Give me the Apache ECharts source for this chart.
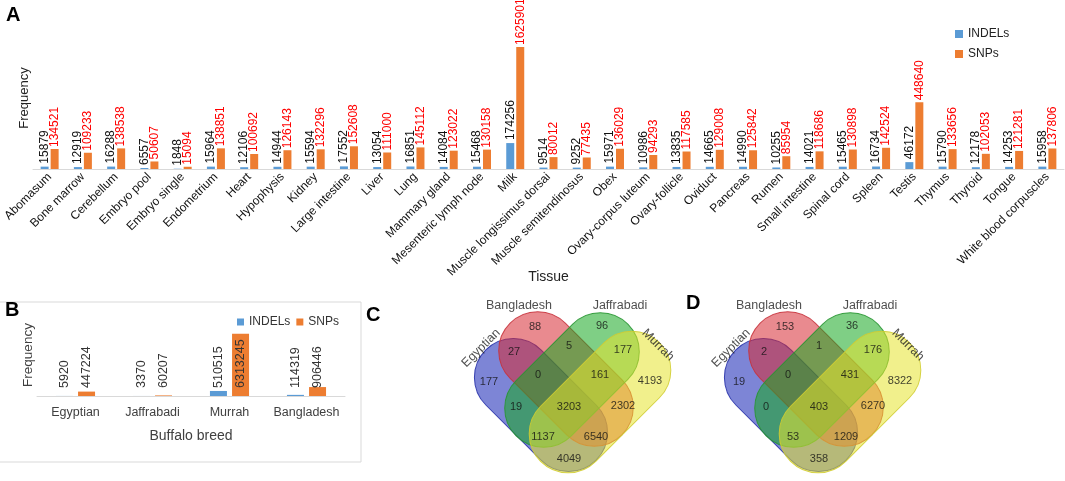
<!DOCTYPE html>
<html><head><meta charset="utf-8">
<script src="https://cdn.jsdelivr.net/npm/echarts@6/dist/echarts.min.js"></script>
<style>html,body{margin:0;padding:0;background:#fff}#c{width:1065px;height:481px}</style>
</head><body><div id="c"></div>
<script>
// ---------- DATA ----------
const tissues = ['Abomasum','Bone marrow','Cerebellum','Embryo pool','Embryo single','Endometrium','Heart','Hypophysis','Kidney','Large intestine','Liver','Lung','Mammary gland','Mesenteric lymph node','Milk','Muscle longissimus dorsai','Muscle semitendinosus','Obex','Ovary-corpus luteum','Ovary-follicle','Oviduct','Pancreas','Rumen','Small intestine','Spinal cord','Spleen','Testis','Thymus','Thyroid','Tongue','White blood corpuscles'];
const tissueIndels = [15879,12919,16288,6557,1848,15964,12106,14944,15594,17552,13054,16851,14084,15468,174256,9514,9252,15971,10986,13835,14665,14990,10255,14021,15465,16734,46172,15790,12178,14253,15958];
const tissueSnps = [134521,109233,138538,50607,15094,138851,100692,126143,132296,152608,111000,145112,123022,130158,1625901,80012,77435,136029,94293,117585,129008,125842,85954,118686,130898,142524,448640,133656,102053,121281,137806];

const breeds = ['Egyptian','Jaffrabadi','Murrah','Bangladesh'];
const breedIndels = [5920,3370,510515,114319];
const breedSnps = [447224,60207,6313245,906446];

const vennSets = ['Egyptian','Bangladesh','Jaffrabadi','Murrah'];
const vennRegions = ['E','B','J','M','EB','BJ','JM','EJ','BM','EM','EBJ','BJM','EJM','EBM','EBJM'];
const vennCountsC = [177,88,96,4193,27,5,177,19,2302,4049,0,161,1137,6540,3203];
const vennCountsD = [19,153,36,8322,2,1,176,0,6270,358,0,431,53,1209,403];

// ---------- LAYOUT (venn geometry, in px relative to diagram axis) ----------
const regionAnchor = {E:[-80,382],B:[-34,327],J:[33,326],M:[81,381],EB:[-55,352],BJ:[0,346],JM:[54,350],EJ:[-53,407],BM:[54,406],EM:[0,459],EBJ:[-31,375],BJM:[31,375],EJM:[-26,437],EBM:[27,437],EBJM:[0,407]};
const setLabelAnchor = [[-88,348,45],[-50,306,0],[51,306,0],[89,345,-45]];
const capsules = [
  {cx:-28,cy:405,len:156,wid:78,rot:-45,fill:'rgba(19,33,180,0.55)',stroke:'rgba(40,50,170,0.9)'},
  {cx:-3,cy:379,len:158,wid:78,rot:-45,fill:'rgba(215,42,51,0.55)',stroke:'rgba(200,50,60,0.9)'},
  {cx:3,cy:380,len:158,wid:78,rot:45,fill:'rgba(22,168,33,0.55)',stroke:'rgba(40,150,50,0.9)'},
  {cx:31,cy:402,len:168,wid:78,rot:45,fill:'rgba(230,228,46,0.55)',stroke:'rgba(210,205,50,0.9)'}
];

const FONT = 'Liberation Sans';
const chart = echarts.init(document.getElementById('c'), null, {renderer:'canvas'});

function capsuleItem(params, api) {
  const k = capsules[params.dataIndex];
  const c = api.coord([k.cx, k.cy]);
  const L = api.size([k.len, 0])[0];
  const W = api.size([0, k.wid])[1];
  return {type:'rect', x:c[0], y:c[1], rotation:k.rot*Math.PI/180,
    shape:{x:-L/2, y:-W/2, width:L, height:W, r:W/2},
    style:{fill:k.fill, stroke:k.stroke, lineWidth:1}};
}

function vennSeries(idx, counts) {
  return [
    {type:'custom', xAxisIndex:idx, yAxisIndex:idx, silent:true, renderItem:capsuleItem,
     data: vennSets.map((n,i)=>({name:n, value:[capsules[i].cx, capsules[i].cy]})), z:2},
    {type:'scatter', xAxisIndex:idx, yAxisIndex:idx, silent:true, symbolSize:1, z:5,
     itemStyle:{color:'rgba(0,0,0,0)'},
     label:{show:true, position:'inside', formatter:p=>String(p.value[2]), fontSize:11, color:'#111', fontFamily:FONT},
     data: vennRegions.map((r,i)=>({value:[regionAnchor[r][0], regionAnchor[r][1], counts[i]]}))},
    {type:'scatter', xAxisIndex:idx, yAxisIndex:idx, silent:true, symbolSize:1, z:5,
     itemStyle:{color:'rgba(0,0,0,0)'},
     data: vennSets.map((n,i)=>({value:[setLabelAnchor[i][0], setLabelAnchor[i][1]], name:n,
        label:{show:true, position:'inside', rotate:setLabelAnchor[i][2], formatter:n, fontSize:12.5, color:'#222', fontFamily:FONT}}))}
  ];
}

const hiddenX = (g)=>({type:'value', gridIndex:g, min:-120, max:120, show:false});
const hiddenY = (g)=>({type:'value', gridIndex:g, min:295, max:480, inverse:true, show:false});

const option = {
  animation:false,
  textStyle:{fontFamily:FONT},
  grid:[
    {left:33, right:1, top:47, bottom:312, outerBoundsMode:'none'},
    {left:37, width:308, top:327, height:69, outerBoundsMode:'none'},
    {left:449, width:240, top:295, height:185, outerBoundsMode:'none'},
    {left:699, width:240, top:295, height:185, outerBoundsMode:'none'}
  ],
  legend:[
    {data:['INDELs','SNPs'], orient:'vertical', left:950, top:23, itemWidth:8, itemHeight:8, itemGap:8, icon:'rect', selectedMode:false,
     textStyle:{fontSize:12, color:'#222', fontFamily:FONT}},
    {data:['INDELs','SNPs'], orient:'horizontal', left:232, top:311, itemWidth:7, itemHeight:7, itemGap:6, icon:'rect', selectedMode:false,
     textStyle:{fontSize:12, color:'#333', fontFamily:FONT}}
  ],
  xAxis:[
    {type:'category', gridIndex:0, data:tissues, axisLine:{lineStyle:{color:'#d9d9d9'}}, axisTick:{show:false},
     axisLabel:{rotate:45, interval:0, fontSize:12, color:'#111', margin:6, fontFamily:FONT},
     name:'Tissue', nameLocation:'middle', nameGap:101, nameMoveOverlap:false, nameTextStyle:{fontSize:14, color:'#222'}},
    {type:'category', gridIndex:1, data:breeds, axisLine:{lineStyle:{color:'#d9d9d9'}}, axisTick:{show:false},
     axisLabel:{interval:0, fontSize:12.5, color:'#404040', margin:10, fontFamily:FONT, hideOverlap:false},
     name:'Buffalo breed', nameLocation:'middle', nameGap:33, nameMoveOverlap:false, nameTextStyle:{fontSize:14, color:'#404040'}},
    hiddenX(2), hiddenX(3)
  ],
  yAxis:[
    {type:'value', gridIndex:0, min:0, max:820000, show:false},
    {type:'value', gridIndex:1, min:0, max:7000000, show:false},
    hiddenY(2), hiddenY(3)
  ],
  graphic:[
    {type:'text', left:6, top:5, style:{text:'A', font:'bold 20px "Liberation Sans"', fill:'#000'}},
    {type:'text', left:5, top:300, style:{text:'B', font:'bold 20px "Liberation Sans"', fill:'#000'}},
    {type:'text', left:366, top:305, style:{text:'C', font:'bold 20px "Liberation Sans"', fill:'#000'}},
    {type:'text', left:686, top:293, style:{text:'D', font:'bold 20px "Liberation Sans"', fill:'#000'}},
    {type:'text', x:24, y:98, rotation:Math.PI/2, style:{text:'Frequency', font:'13px "Liberation Sans"', fill:'#222', textAlign:'center', textVerticalAlign:'middle'}},
    {type:'text', x:28, y:355, rotation:Math.PI/2, style:{text:'Frequency', font:'13.5px "Liberation Sans"', fill:'#404040', textAlign:'center', textVerticalAlign:'middle'}},
    {type:'rect', shape:{x:-2, y:302, width:363, height:160}, style:{fill:'none', stroke:'#d9d9d9', lineWidth:1}, silent:true, z:-1}
  ],
  series:[
    {type:'bar', name:'INDELs', xAxisIndex:0, yAxisIndex:0, data:tissueIndels, barWidth:8, barGap:'25%',
     itemStyle:{color:'#5B9BD5'},
     label:{show:true, position:'top', rotate:90, align:'left', verticalAlign:'middle', distance:3, fontSize:12, color:'#111'}},
    {type:'bar', name:'SNPs', xAxisIndex:0, yAxisIndex:0, data:tissueSnps, barWidth:8, barGap:'25%',
     itemStyle:{color:'#ED7D31'},
     label:{show:true, position:'top', rotate:90, align:'left', verticalAlign:'middle', distance:2, fontSize:12, color:'#ff0000'}},
    {type:'bar', name:'INDELs', xAxisIndex:1, yAxisIndex:1, data:breedIndels, barWidth:17, barGap:'30%',
     itemStyle:{color:'#5B9BD5'},
     label:{show:true, position:'insideBottom', rotate:90, align:'left', verticalAlign:'middle', distance:8, fontSize:12.5, color:'#333'}},
    {type:'bar', name:'SNPs', xAxisIndex:1, yAxisIndex:1, data:breedSnps, barWidth:17, barGap:'30%',
     itemStyle:{color:'#ED7D31'},
     label:{show:true, position:'insideBottom', rotate:90, align:'left', verticalAlign:'middle', distance:8, fontSize:12.5, color:'#333'}},
    ...vennSeries(2, vennCountsC),
    ...vennSeries(3, vennCountsD)
  ]
};
chart.setOption(option);
</script></body></html>
